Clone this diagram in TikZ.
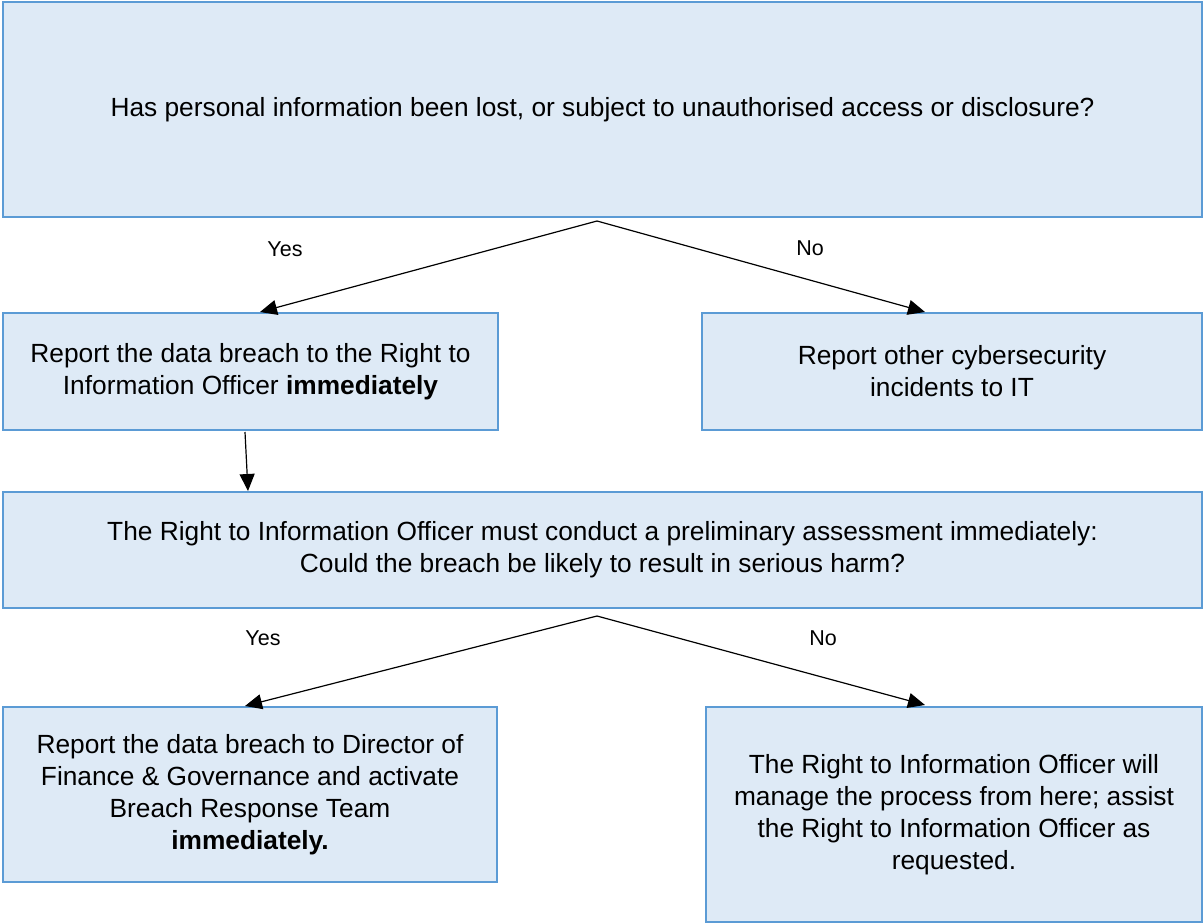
\documentclass[tikz,border=0pt]{standalone}
\usepackage{fontspec}
\setmainfont{Liberation Sans}
\usetikzlibrary{arrows.meta}
\definecolor{boxfill}{HTML}{DEEAF6}
\definecolor{boxline}{HTML}{5B9BD5}
\begin{document}
\begin{tikzpicture}[x=1pt,y=-1pt,
  box/.style={draw=boxline,fill=boxfill,line width=2.6pt,rectangle,align=center,
    font=\fontsize{26.3}{32}\selectfont,inner sep=0pt},
  conn/.style={line width=1.2pt,-{Triangle[length=17pt,width=15pt]}},
  lbl/.style={font=\fontsize{21.5}{24}\selectfont,inner sep=0pt}]
\useasboundingbox (0,0) rectangle (1203,924);
\node[box,minimum width=1199pt,minimum height=215pt] (top) at (602.5,109.5)
  {Has personal information been lost, or subject to unauthorised access or disclosure?};
\node[box,minimum width=495pt,minimum height=117pt] (l1) at (250.5,371.5)
  {Report the data breach to the Right to\\Information Officer \textbf{immediately}};
\node[box,minimum width=500pt,minimum height=117pt] (r1) at (952,371.5)
  {Report other cybersecurity\\incidents to IT};
\node[box,minimum width=1199pt,minimum height=116pt] (mid) at (602.5,550)
  {The Right to Information Officer must conduct a preliminary assessment immediately:\\Could the breach be likely to result in serious harm?};
\node[box,minimum width=494pt,minimum height=175pt] (bl) at (250,794.5)
  {Report the data breach to Director of\\Finance \& Governance and activate\\Breach Response Team\\\textbf{immediately.}};
\node[box,minimum width=496pt,minimum height=215pt] (br) at (954,814.5)
  {The Right to Information Officer will\\manage the process from here; assist\\the Right to Information Officer as\\requested.};
\coordinate (s1) at (597,221);
\coordinate (e1l) at (260,312);
\coordinate (e1r) at (925,312);
\coordinate (s2) at (597,616);
\coordinate (e2l) at (245,706);
\coordinate (e2r) at (925,705);
\coordinate (a3s) at (245,432);
\coordinate (a3e) at (248,491);
\draw[conn] (s1) -- (e1l);
\draw[conn] (s1) -- (e1r);
\draw[conn] (s2) -- (e2l);
\draw[conn] (s2) -- (e2r);
\draw[conn] (a3s) -- (a3e);
\node[lbl] (y1) at (285,249) {Yes};
\node[lbl] (n1) at (810,248) {No};
\node[lbl] (y2) at (263,638) {Yes};
\node[lbl] (n2) at (823,638) {No};
\end{tikzpicture}
\end{document}
